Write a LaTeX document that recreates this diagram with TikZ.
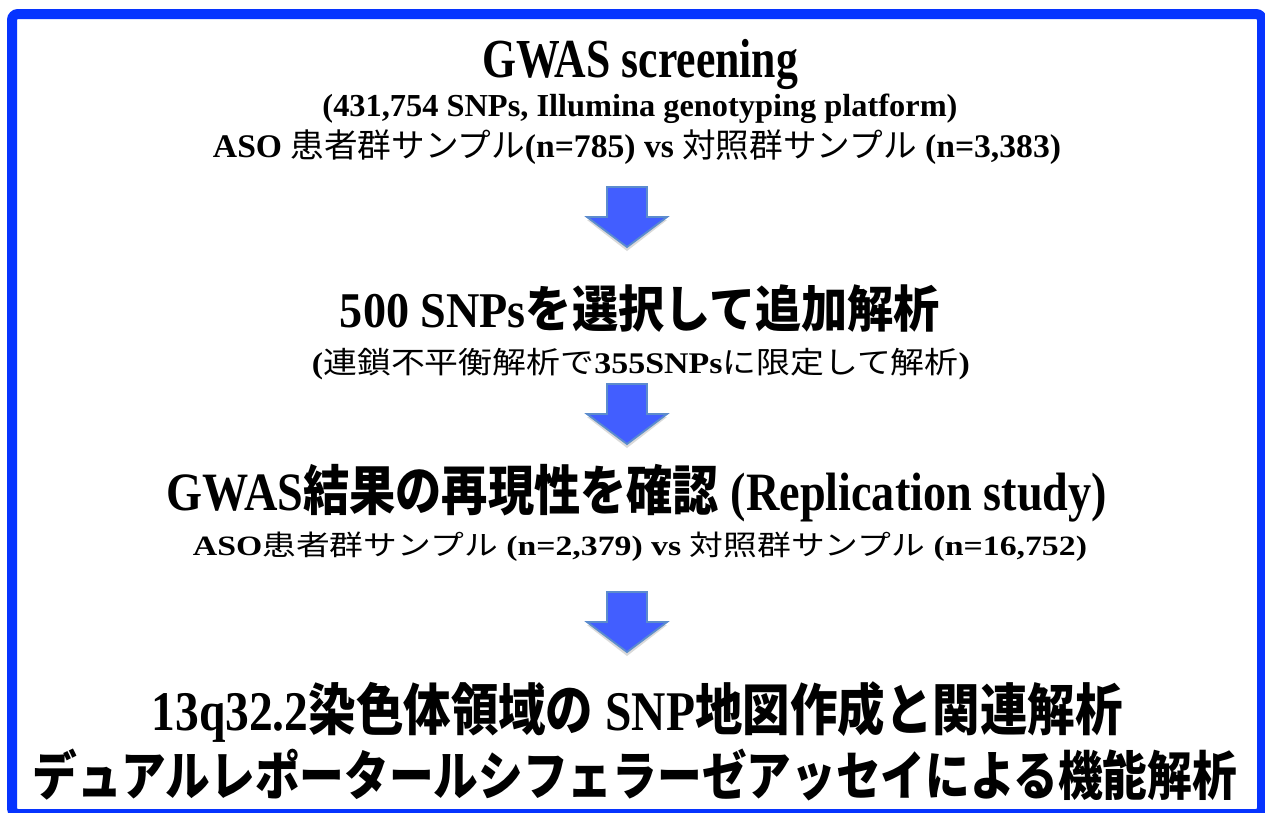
\documentclass[tikz,border=0pt]{standalone}
\usepackage{fontspec}
\usepackage{graphicx}
\setmainfont{Liberation Serif}
\newfontfamily\jpfont{Noto Sans CJK JP}
\newcommand\Jb[1]{{\jpfont\bfseries #1}}
\newcommand\Jr[1]{{\jpfont\mdseries #1}}
\newcommand\fitw[2]{\resizebox{#1}{\height}{#2}}
\definecolor{frameblue}{RGB}{6,52,255}
\definecolor{arrowfill}{RGB}{66,94,255}
\definecolor{arrowedge}{RGB}{92,140,205}
\tikzset{
  txt/.style={anchor=base, inner sep=0pt, text=black},
  fs/.style={font=\fontsize{#1pt}{#1pt}\selectfont\bfseries},
  arrowbox/.style={fill=arrowfill, draw=arrowedge, line width=1.8pt, line join=miter},
  arrowshadow/.style={fill=black, opacity=0.15},
  pics/blockarrow/.style={code={
    \fill[arrowshadow] (-19,3) -- (19,3) -- (19,33) -- (40,33) -- (0,64) -- (-40,33) -- (-19,33) -- cycle;
    \draw[arrowbox] (-20,0) -- (20,0) -- (20,30) -- (40,30) -- (0,60) -- (-40,30) -- (-20,30) -- cycle;
  }}
}
\begin{document}
\begin{tikzpicture}[x=1pt,y=-1pt]
\useasboundingbox (0,0) rectangle (1265,812);
\fill[white] (0,0) rectangle (1265,812);
\draw[frameblue, line width=10pt, rounded corners=6pt] (12,14) rectangle (1262,814);

\node[txt, fs=55] (t1) at (640,77) {\fitw{316pt}{GWAS screening}};
\node[txt, fs=32] (t2) at (640,116) {\fitw{635pt}{(431,754 SNPs, Illumina genotyping platform)}};
\node[txt, fs=33] (t3) at (637,157) {\fitw{848pt}{ASO \Jr{患者群サンプル}(n=785) vs \Jr{対照群サンプル} (n=3,383)}};

\node[txt, fs=50] (t4) at (640,327) {\fitw{600pt}{500 SNPs\Jb{を選択して追加解析}}};
\node[txt, fs=30] (t5) at (641,373) {\fitw{658pt}{(\Jr{連鎖不平衡解析で}355SNPs\Jr{に限定して解析})}};

\node[txt, fs=54] (t6) at (637,510) {\fitw{940pt}{GWAS\Jb{結果の再現性を確認} (Replication study)}};
\node[txt, fs=28] (t7) at (640,555) {\fitw{894pt}{ASO\Jr{患者群サンプル} (n=2,379) vs \Jr{対照群サンプル} (n=16,752)}};

\node[txt, fs=56] (t8) at (637,730) {\fitw{971pt}{13q32.2\Jb{染色体領域の} SNP\Jb{地図作成と関連解析}}};
\node[txt, fs=53] (t9) at (635,795) {\fitw{1204pt}{\Jb{デュアルレポータールシフェラーゼアッセイによる機能解析}}};

\pic (a1) at (627,187) {blockarrow};
\pic (a2) at (627,384) {blockarrow};
\pic (a3) at (627,592) {blockarrow};
\end{tikzpicture}
\end{document}
